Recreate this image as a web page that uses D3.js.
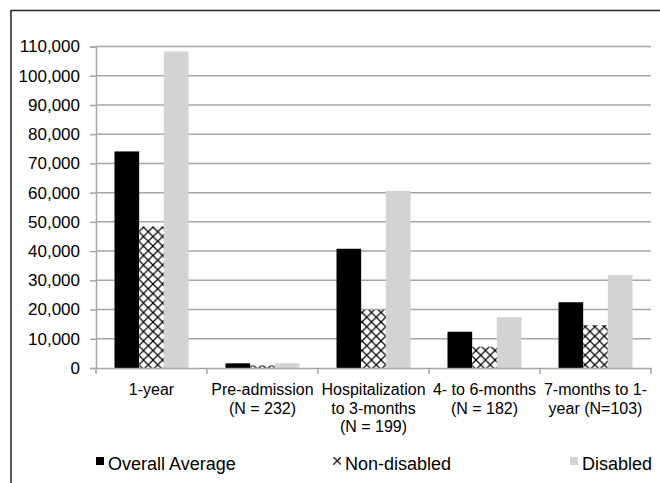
<!DOCTYPE html>
<html>
<head>
<meta charset="utf-8">
<script src="https://cdn.jsdelivr.net/npm/d3@7"></script>
<style>
  html, body { margin: 0; padding: 0; background: #fff; }
  svg { display: block; font-family: "Liberation Sans", Arial, sans-serif; }
</style>
</head>
<body>
<div id="chart"></div>
<script>
// Categories (each entry is a list of label lines)
var categories = ["1-year", "Pre-admission", "Hospitalization", "4- to 6-months", "7-months to 1-"];
var categoryLines = [
    ["1-year"],
    ["Pre-admission", "(N = 232)"],
    ["Hospitalization", "to 3-months", "(N = 199)"],
    ["4- to 6-months", "(N = 182)"],
    ["7-months to 1-", "year (N=103)"]
];
var seriesNames = ["Overall Average", "Non-disabled", "Disabled"];
var overallAverage = [74100, 1600, 40800, 12400, 22500];
var nonDisabled    = [48400, 900, 19900, 7300, 14700];
var disabled       = [108300, 1600, 60600, 17400, 31800];
var yTicks = [0, 10000, 20000, 30000, 40000, 50000, 60000, 70000, 80000, 90000, 100000, 110000];

var seriesValues = [overallAverage, nonDisabled, disabled];
var fills = ["#000000", "url(#xhatch)", "#d3d3d3"];

var totalW = 660, totalH = 483;
var margin = { top: 46.5, right: 9, bottom: 115, left: 96 };
var width = totalW - margin.left - margin.right;
var height = totalH - margin.top - margin.bottom;

var svg = d3.select("#chart").append("svg")
    .attr("width", totalW)
    .attr("height", totalH);

// cross-hatch pattern
var hp = 9.5;
var defs = svg.append("defs");
var pat = defs.append("pattern")
    .attr("id", "xhatch")
    .attr("patternUnits", "userSpaceOnUse")
    .attr("width", hp).attr("height", hp);
pat.append("rect").attr("width", hp).attr("height", hp).attr("fill", "#fff");
pat.append("path")
    .attr("d", "M0,0L" + hp + "," + hp + "M" + hp + ",0L0," + hp)
    .attr("stroke", "#000")
    .attr("stroke-width", 1.2);

// outer frame (only top and left visible)
svg.append("path")
    .attr("d", "M11," + totalH + "V10.5H" + totalW)
    .attr("fill", "none")
    .attr("stroke", "#222")
    .attr("stroke-width", 1.5);

var g = svg.append("g")
    .attr("transform", "translate(" + margin.left + "," + margin.top + ")");

var x0 = d3.scaleBand().domain(categories).range([0, width]);
var x1 = d3.scaleBand().domain(seriesNames)
    .range([x0.bandwidth() / 6, x0.bandwidth() * 5 / 6]);
var y = d3.scaleLinear().domain([0, 110000]).range([height, 0]);

// grid lines
g.append("g")
    .selectAll("line")
    .data(yTicks.filter(function(d) { return d > 0; }))
    .enter().append("line")
    .attr("x1", 0).attr("x2", width)
    .attr("y1", function(d) { return y(d); })
    .attr("y2", function(d) { return y(d); })
    .attr("stroke", "#a6a6a6")
    .attr("stroke-width", 1.5);

// y axis
var yAxis = g.append("g")
    .call(d3.axisLeft(y).tickValues(yTicks).tickSize(6).tickPadding(10)
        .tickFormat(d3.format(",")));
yAxis.select(".domain").attr("stroke", "#a6a6a6").attr("stroke-width", 1.5);
yAxis.selectAll(".tick line").attr("stroke", "#a6a6a6").attr("stroke-width", 1.5);
yAxis.selectAll("text")
    .attr("fill", "#000")
    .style("font-size", "17px")
    .style("font-family", "'Liberation Sans', Arial, sans-serif");

// bars
categories.forEach(function(c, ci) {
    seriesNames.forEach(function(s, si) {
        var v = seriesValues[si][ci];
        g.append("rect")
            .attr("x", x0(c) + x1(s))
            .attr("y", y(v))
            .attr("width", x1.bandwidth())
            .attr("height", y(0) - y(v))
            .attr("fill", fills[si]);
    });
});

// x axis
var xAxis = g.append("g")
    .attr("transform", "translate(0," + height + ")")
    .call(d3.axisBottom(x0).tickSize(0).tickFormat(""));
xAxis.select(".domain").attr("stroke", "#a6a6a6").attr("stroke-width", 1.5);
xAxis.selectAll(".tick").remove();

// tick marks between categories
var bounds = categories.map(function(c) { return x0(c); }).concat([width]);
xAxis.selectAll("line.sep")
    .data(bounds)
    .enter().append("line")
    .attr("class", "sep")
    .attr("x1", function(d) { return d; }).attr("x2", function(d) { return d; })
    .attr("y1", 0).attr("y2", 6)
    .attr("stroke", "#a6a6a6")
    .attr("stroke-width", 1.5);

// category labels
categories.forEach(function(c, ci) {
    var t = g.append("text")
        .attr("x", x0(c) + x0.bandwidth() / 2)
        .attr("y", height + 27)
        .attr("text-anchor", "middle")
        .style("font-size", "16px")
        .attr("fill", "#000");
    categoryLines[ci].forEach(function(line, li) {
        t.append("tspan")
            .attr("x", x0(c) + x0.bandwidth() / 2)
            .attr("dy", li === 0 ? 0 : 18.5)
            .text(line);
    });
});

// legend
var legendX = [96, 333, 570];
var legend = svg.append("g");
seriesNames.forEach(function(s, i) {
    legend.append("rect")
        .attr("x", legendX[i])
        .attr("y", 457)
        .attr("width", 8)
        .attr("height", 8)
        .attr("fill", fills[i]);
    legend.append("text")
        .attr("x", legendX[i] + 12)
        .attr("y", 470)
        .style("font-size", "18px")
        .attr("fill", "#000")
        .text(s);
});
</script>
</body>
</html>
